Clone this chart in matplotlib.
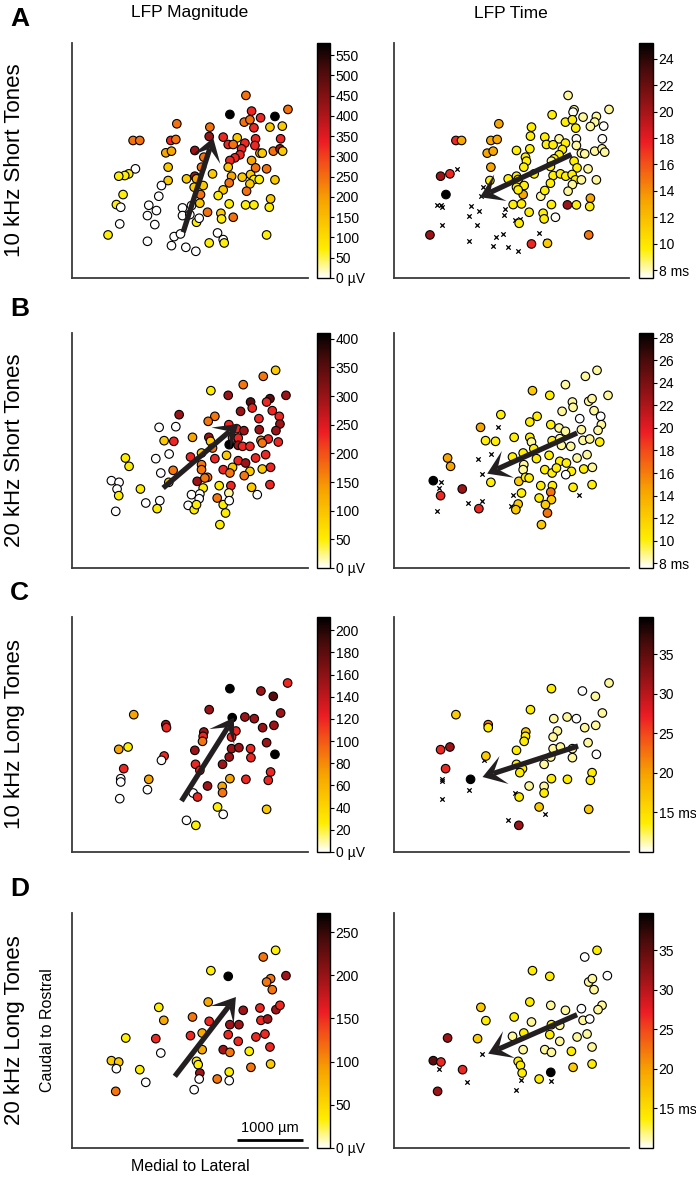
import numpy as np
import matplotlib
matplotlib.use("Agg")
import matplotlib.pyplot as plt
from matplotlib.colors import LinearSegmentedColormap, Normalize
from matplotlib.cm import ScalarMappable
from matplotlib.patches import Polygon

plt.rcParams['font.family'] = ['Liberation Sans', 'DejaVu Sans']

# ---- data: recording sites (x, y in panel units), colour value per site ----
# Row A: 10 kHz short tones
a_mag_x = [558,510,575,645,684,553,570,602,582,630,667,351,450,448,220,240,333,348,490,532,505,520,555,587,662,585,405,318,335,432,545,540,525,510,600,607,640,660,668,575,325,505,227,207,195,177,425,458,515,547,572,587,620,405,380,410,325,305,582,598,645,403,430,508,570,490,560,475,422,297,190,170,183,267,290,263,368,395,420,508,557,582,628,632,368,390,443,483,410,418,485,520,180,285,145,263,343,362,335,378,408,448,473,490,493,620]
a_mag_y = [195,252,242,258,237,275,268,262,292,290,287,280,290,318,330,330,330,327,320,322,342,342,338,325,325,345,360,367,362,380,355,373,382,390,368,368,362,355,362,390,410,410,415,430,435,437,410,430,437,440,432,412,415,437,445,445,450,465,447,447,448,470,465,457,460,478,482,495,492,497,492,522,530,524,540,555,532,525,518,520,523,523,530,505,555,552,545,548,575,563,565,560,580,582,613,632,618,610,645,650,662,637,607,627,637,613]
a_mag_v = [245,580,325,580,245,245,245,325,325,130,130,245,245,420,245,245,325,245,325,130,325,245,325,325,325,325,420,185,185,245,325,325,325,325,185,130,245,420,130,185,130,130,0,70,70,70,245,130,185,130,130,245,245,420,130,185,130,0,70,70,130,130,130,245,130,130,245,70,245,0,70,70,0,0,0,0,0,0,130,70,70,70,70,130,0,0,245,130,70,0,70,245,0,0,70,0,0,0,0,0,0,70,0,0,70,70]

a_time_x = [565,583,580,517,557,578,610,650,688,645,632,672,588,357,455,452,228,245,333,352,495,538,590,668,500,520,557,590,410,450,322,340,437,440,548,538,523,515,605,615,645,667,675,583,333,432,512,592,625,182,210,385,410,415,463,520,542,558,577,330,587,605,650,410,433,512,578,198,430,415,483,495,565,400,425,515,563,590,632,630,448,490,493,527,418,150,455,503,627]
a_time_y = [195,238,245,253,275,268,260,258,237,275,288,287,293,280,290,317,330,330,330,327,320,325,325,325,342,343,338,345,360,355,368,362,380,392,357,373,385,392,368,370,362,355,365,392,410,410,408,412,415,437,430,445,437,447,430,435,430,437,432,450,448,448,448,470,465,458,462,492,492,478,497,480,482,522,520,522,523,523,503,528,545,548,565,560,578,613,640,638,613]
a_time_v = [8.3,8.3,7.5,9.5,9.5,9.5,8.3,8.3,8.3,8.3,8.3,7.5,9.5,13.1,9.5,9.5,17.4,13.1,13.1,13.1,9.5,8.3,7.5,7.5,9.5,9.5,9.5,8.3,9.5,9.5,13.1,13.1,9.5,9.5,9.5,9.5,9.5,8.3,8.3,8.3,8.3,8.3,8.3,9.5,13.1,9.5,9.5,9.5,8.3,20.2,17.4,9.5,9.5,9.5,9.5,9.5,9.5,9.5,9.5,9.5,9.5,8.3,8.3,9.5,9.5,9.5,8.3,25.2,13.1,9.5,8.3,9.5,8.3,9.5,9.5,9.5,20.2,9.5,13.1,9.5,9.5,9.5,9.5,7.5,9.5,20.2,17.4,11.3,14.9]
a_none_x = [232,172,182,185,310,302,273,268,298,290,185,375,373,405,422,267,348,370,340,385,415,478,498]
a_none_y = [415,522,522,530,468,497,525,557,540,582,582,535,552,568,565,632,618,610,645,650,662,607,630]

# Row B: 20 kHz short tones
b_mag_x = [647,610,550,453,505,572,577,630,620,678,637,542,358,465,445,298,348,507,530,552,597,658,660,648,598,313,342,398,447,452,518,535,508,535,548,570,603,625,607,655,197,208,288,328,392,425,458,465,500,535,557,587,617,303,340,425,425,490,518,510,570,607,632,155,178,172,412,443,435,553,327,177,242,430,478,513,575,630,592,395,420,507,258,300,292,385,418,403,410,472,490,508,497,168,480]
b_mag_y = [197,215,240,258,272,292,310,282,292,272,318,320,330,335,350,368,366,360,372,378,342,335,358,378,375,408,410,398,398,410,400,400,420,422,425,425,407,403,415,412,460,485,462,448,457,445,430,462,452,468,475,460,450,505,497,480,495,495,488,505,500,493,488,528,533,553,530,518,520,513,533,573,553,550,543,543,548,540,570,570,568,565,595,588,612,602,582,615,600,580,600,588,625,620,660]
b_mag_v = [90,170,170,50,295,350,230,350,230,295,230,295,295,170,170,0,0,230,230,295,230,230,295,295,295,90,230,130,295,90,230,230,410,295,230,230,170,230,170,230,50,50,0,0,230,90,170,230,90,230,295,230,230,0,170,170,170,230,90,170,90,90,230,0,0,0,295,170,170,170,90,50,50,50,50,230,90,230,0,0,0,20,0,0,50,0,0,50,50,170,50,0,50,0,50]

b_time_x = [652,617,557,458,510,578,580,627,637,685,643,547,363,472,450,302,513,538,557,600,663,665,655,605,317,347,403,450,455,517,540,545,573,610,630,660,203,212,398,430,462,470,508,540,560,592,622,432,430,495,517,530,575,612,638,160,247,182,333,417,437,448,558,483,518,580,637,425,513,515,478,415,497,408,297,503,485]
b_time_y = [197,215,240,258,272,292,308,290,282,272,318,320,330,335,352,368,360,370,380,342,335,360,377,375,408,410,398,398,412,408,402,422,425,407,403,412,460,485,457,445,432,462,452,470,475,460,450,480,495,495,505,490,500,493,488,528,553,573,533,530,518,520,510,543,543,548,540,565,562,585,580,598,600,615,612,625,660]
b_time_v = [8.6,8.6,8.6,12.2,10.1,8.6,8.6,8.6,8.6,8.6,8.6,8.6,10.1,10.1,10.1,14.3,10.1,8.6,8.6,7.6,7.6,8.6,8.6,8.6,10.1,10.1,10.1,10.1,8.6,10.1,8.6,8.6,8.6,8.6,8.6,10.1,14.3,14.3,10.1,10.1,10.1,10.1,10.1,10.1,10.1,8.6,8.6,8.6,8.6,10.1,10.1,10.1,10.1,10.1,8.6,28.4,22.6,19.2,10.1,12.2,10.1,10.1,7.6,10.1,10.1,10.1,10.1,10.1,16.3,12.2,10.1,12.2,12.2,12.2,19.2,16.3,12.2]
b_none_x = [353,333,293,307,183,178,172,263,307,400,392,598,515]
b_none_y = [367,448,462,507,533,550,620,595,590,570,603,570,585]

# Row C: 10 kHz long tones
c_mag_x = [683,510,603,640,448,662,222,517,555,583,318,320,608,642,432,430,428,528,515,620,177,205,405,515,537,572,645,313,305,573,508,407,488,192,420,632,625,183,183,267,443,510,558,487,488,263,400,413,180,473,490,620,380,408]
c_mag_y = [218,235,242,258,298,308,313,322,320,325,343,352,352,345,365,378,393,362,380,397,417,410,420,415,412,415,432,437,450,442,440,462,462,475,480,485,510,505,515,507,527,505,507,528,547,538,548,560,565,590,612,597,630,645]
c_mag_v = [119,212,153,180,153,153,68,212,153,153,153,119,153,153,153,119,89,119,119,153,68,25,153,153,153,119,212,119,0,119,153,119,153,119,119,119,119,0,0,68,153,68,119,68,89,0,0,119,0,25,0,47,0,25]

c_time_x = [688,515,608,647,452,668,228,522,562,590,325,325,615,648,438,437,433,533,520,625,182,210,410,520,542,578,650,318,578,513,410,493,197,428,420,637,632,272,448,515,563,493,493,418,478,627,417]
c_time_y = [218,235,242,258,298,308,313,325,320,325,343,352,352,345,365,378,393,362,380,397,418,410,420,415,410,415,432,437,442,440,462,462,475,475,487,487,510,507,527,505,507,528,548,560,590,597,645]
c_time_v = [11.5,13.6,10,11.5,13.6,11.5,16.5,11.5,11.5,10,22.5,13.6,11.5,11.5,16.5,13.6,13.6,11.5,11.5,11.5,26.6,31.4,13.6,11.5,11.5,11.5,10,16.5,11.5,11.5,13.6,11.5,26.6,13.6,13.6,13.6,13.6,39.7,11.5,13.6,13.6,11.5,13.6,13.6,16.5,16.5,31.4]
c_none_x = [312,185,185,268,185,405,497,385]
c_none_y = [448,505,513,538,565,548,612,630]

# Row D: 20 kHz long tones
d_mag_x = [647,610,453,505,632,620,678,637,445,297,550,600,648,660,312,398,448,510,537,603,623,427,392,505,535,588,615,198,288,630,490,510,568,303,427,155,177,170,240,410,415,420,573,632,508,258,418,472,508,403,168]
d_mag_y = [212,232,273,290,297,307,288,330,367,383,392,385,390,377,422,412,425,435,435,422,418,460,468,465,485,472,463,475,477,502,510,518,515,520,510,543,547,567,570,545,555,580,563,553,577,608,598,598,603,630,635]
d_mag_v = [32,113,32,270,113,113,194,113,86,32,194,151,194,151,86,113,151,194,194,151,194,86,151,151,151,151,151,32,151,151,194,113,32,0,86,60,60,0,32,32,32,194,113,60,32,0,0,113,0,0,113]

d_time_x = [652,615,458,510,627,638,683,643,450,303,513,557,605,667,655,318,403,455,515,540,610,630,203,293,398,432,510,540,592,622,637,430,495,515,575,160,183,248,415,422,427,478,513,580,637,173]
d_time_y = [212,232,273,290,307,297,288,330,367,383,377,392,387,377,390,423,412,427,435,437,422,418,475,477,470,460,465,485,472,463,502,510,510,518,515,543,547,570,545,557,580,598,578,563,553,635]
d_time_v = [13.6,10,13.6,13.6,11.5,11.5,10,11.5,13.6,16.5,11.5,11.5,10,11.5,11.5,13.6,13.6,11.5,13.6,11.5,11.5,10,31.4,16.5,11.5,13.6,13.6,11.5,11.5,11.5,11.5,11.5,11.5,11.5,13.6,35.2,26.6,26.6,13.6,13.6,13.6,13.6,39.7,16.5,13.6,31.4]
d_none_x = [307,177,262,423,408,513]
d_none_y = [522,567,608,600,630,605]

row_names = ['10 kHz Short Tones', '20 kHz Short Tones', '10 kHz Long Tones', '20 kHz Long Tones']
row_letters = ['A', 'B', 'C', 'D']

# colour scales (min, max, ticks) per panel
mag_scales = [(0, 580, list(range(0, 551, 50))), (0, 410, list(range(0, 401, 50))),
              (0, 212, list(range(0, 201, 20))), (0, 272, list(range(0, 251, 50)))]
time_scales = [(7.4, 25.2, list(range(8, 25, 2))), (7.6, 28.4, list(range(8, 29, 2))),
               (10, 39.7, [15, 20, 25, 30, 35]), (10, 39.7, [15, 20, 25, 30, 35])]

# arrows (tail, tip) per panel
mag_arrows = [((370, 605), (460, 322)), ((310, 550), (535, 358)),
              ((365, 572), (522, 322)), ((345, 590), (528, 352))]
time_arrows = [((575, 372), (300, 500)), ((592, 385), (322, 507)),
               ((595, 407), (308, 500)), ((592, 405), (325, 522))]

mag_data = [(a_mag_x, a_mag_y, a_mag_v), (b_mag_x, b_mag_y, b_mag_v),
            (c_mag_x, c_mag_y, c_mag_v), (d_mag_x, d_mag_y, d_mag_v)]
time_data = [(a_time_x, a_time_y, a_time_v, a_none_x, a_none_y),
             (b_time_x, b_time_y, b_time_v, b_none_x, b_none_y),
             (c_time_x, c_time_y, c_time_v, c_none_x, c_none_y),
             (d_time_x, d_time_y, d_time_v, d_none_x, d_none_y)]

# ---- figure ----
W, H = 696, 1178
fig = plt.figure(figsize=(W / 100, H / 100), dpi=100)

cmap = LinearSegmentedColormap.from_list('lfp', [
    (0.0, '#ffffff'), (0.12, '#ffee00'), (0.33, '#f7a300'), (0.5, '#f24a1a'),
    (0.58, '#ec1c24'), (0.72, '#9e1418'), (0.9, '#420a0a'), (1.0, '#000000')])

def px_axes(x0, y0, x1, y1):
    return fig.add_axes([x0 / W, 1 - y1 / H, (x1 - x0) / W, (y1 - y0) / H])

def draw_arrow(ax, tail, tip, L=68, hw=44, notch=0.5):
    tail = np.array(tail, float); tip = np.array(tip, float)
    d = (tip - tail) / np.hypot(*(tip - tail))
    n = np.array([-d[1], d[0]])
    base = tip - L * d
    mid = tip - notch * L * d
    ax.plot([tail[0], mid[0]], [tail[1], mid[1]], color='#231f20', lw=3.8,
            solid_capstyle='butt', zorder=5)
    ax.add_patch(Polygon([tip, base + hw * n, mid, base - hw * n], closed=True,
                         facecolor='#231f20', edgecolor='none', zorder=5))

def style_ax(ax, lim):
    ax.set_xlim(lim[0], lim[1]); ax.set_ylim(lim[3], lim[2])
    for s in ['top', 'right']:
        ax.spines[s].set_visible(False)
    for s in ['left', 'bottom']:
        ax.spines[s].set_color('#3a3a3a'); ax.spines[s].set_linewidth(1.3)
    ax.set_xticks([]); ax.set_yticks([])

def add_cbar(x0, x1, top, vmin, vmax, ticks, unit):
    cax = px_axes(x0, top, x1, top + 235)
    cb = fig.colorbar(ScalarMappable(Normalize(vmin, vmax), cmap), cax=cax)
    cb.set_ticks(ticks)
    cb.set_ticklabels([f'{t} {unit}' if i == 0 else f'{t}' for i, t in enumerate(ticks)])
    cb.outline.set_linewidth(1.0)
    cax.tick_params(direction='out', length=3, width=0.8, labelsize=10, pad=1)

tops = [43, 333, 617, 913]
left_lims = [(37, 744, 38, 742), (37, 744, 85, 790), (37, 744, 20, 725), (37, 744, 100, 805)]
right_lims = [(42, 748, 38, 742), (42, 748, 85, 790), (42, 748, 20, 725), (42, 748, 100, 805)]
letter_y = [19, 309, 593, 889]

for i in range(4):
    top = tops[i]
    # magnitude
    ax = px_axes(72, top, 308, top + 235)
    style_ax(ax, left_lims[i])
    x, y, v = mag_data[i]
    vmin, vmax, ticks = mag_scales[i]
    ax.scatter(x, y, c=v, cmap=cmap, vmin=vmin, vmax=vmax, s=38,
               edgecolors='k', linewidths=0.8, zorder=3)
    draw_arrow(ax, *mag_arrows[i])
    add_cbar(317, 330, top, vmin, vmax, ticks, 'µV')
    if i == 3:
        ax.plot([531, 729], [780, 780], color='k', lw=2, solid_capstyle='butt')
        ax.text(630, 765, '1000 µm', ha='center', va='bottom', fontsize=10.5)
        ax.set_xlabel('Medial to Lateral', fontsize=11.5, labelpad=8)
        ax.set_ylabel('Caudal to Rostral', fontsize=11.5, labelpad=12)

    # time
    ax = px_axes(394, top, 629, top + 235)
    style_ax(ax, right_lims[i])
    x, y, v, nx, ny = time_data[i]
    vmin, vmax, ticks = time_scales[i]
    ax.scatter(nx, ny, marker='x', s=10, c='k', linewidths=0.9, zorder=2)
    ax.scatter(x, y, c=v, cmap=cmap, vmin=vmin, vmax=vmax, s=38,
               edgecolors='k', linewidths=0.8, zorder=3)
    draw_arrow(ax, *time_arrows[i])
    add_cbar(639, 653, top, vmin, vmax, ticks, 'ms')

    fig.text(10 / W, 1 - letter_y[i] / H, row_letters[i], fontsize=19,
             fontweight='bold', ha='left', va='center')
    fig.text(15 / W, 1 - (top + 117) / H, row_names[i], fontsize=16,
             rotation=90, ha='center', va='center')

fig.text(190 / W, 1 - 13 / H, 'LFP Magnitude', fontsize=12.5, ha='center', va='center')
fig.text(511 / W, 1 - 13 / H, 'LFP Time', fontsize=12.5, ha='center', va='center')

fig.savefig('out.png', dpi=100)
